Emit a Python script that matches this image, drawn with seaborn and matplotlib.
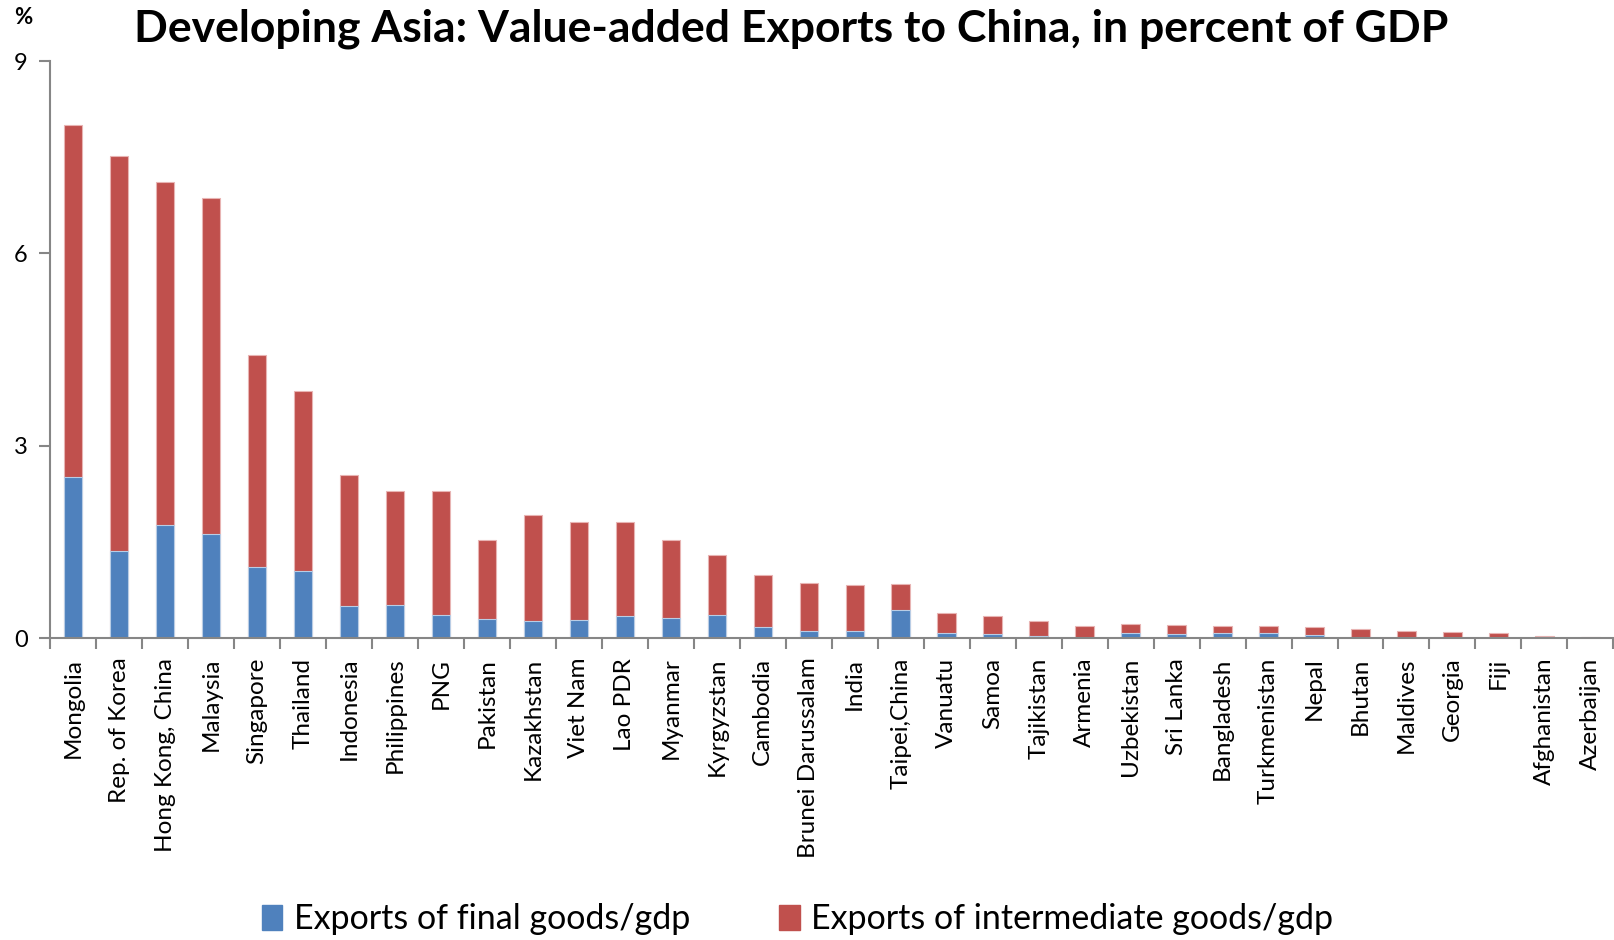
import matplotlib
matplotlib.use("Agg")
import matplotlib.pyplot as plt
import seaborn as sns
import numpy as np

countries = [
    "Mongolia", "Rep. of Korea", "Hong Kong, China", "Malaysia", "Singapore",
    "Thailand", "Indonesia", "Philippines", "PNG", "Pakistan", "Kazakhstan",
    "Viet Nam", "Lao PDR", "Myanmar", "Kyrgyzstan", "Cambodia",
    "Brunei Darussalam", "India", "Taipei,China", "Vanuatu", "Samoa",
    "Tajikistan", "Armenia", "Uzbekistan", "Sri Lanka", "Bangladesh",
    "Turkmenistan", "Nepal", "Bhutan", "Maldives", "Georgia", "Fiji",
    "Afghanistan", "Azerbaijan",
]

final_goods = [
    2.51, 1.36, 1.76, 1.62, 1.11, 1.05, 0.51, 0.52, 0.36, 0.30, 0.27,
    0.28, 0.35, 0.31, 0.36, 0.18, 0.11, 0.12, 0.44, 0.08, 0.06,
    0.04, 0.01, 0.08, 0.06, 0.08, 0.08, 0.05, 0.01, 0.00, 0.01, 0.00,
    0.00, 0.00,
]

intermediate_goods = [
    5.49, 6.16, 5.36, 5.24, 3.31, 2.81, 2.04, 1.77, 1.93, 1.24, 1.65,
    1.53, 1.46, 1.22, 0.94, 0.80, 0.75, 0.71, 0.41, 0.31, 0.28,
    0.23, 0.18, 0.14, 0.15, 0.11, 0.11, 0.12, 0.13, 0.11, 0.09, 0.08,
    0.04, 0.02,
]

y_ticks = [0, 3, 6, 9]

BLUE = "#4F81BD"
RED = "#C0504D"
AXIS_GREY = "#868686"

sns.set_style("white")
plt.rcParams["font.family"] = ["Lato", "DejaVu Sans"]
plt.rcParams["text.color"] = "black"
plt.rcParams["xtick.labelcolor"] = "black"
plt.rcParams["ytick.labelcolor"] = "black"

fig = plt.figure(figsize=(16.15, 9.4), dpi=100)
ax = fig.add_axes([0.031, 0.321, 0.968, 0.614])

totals = np.array(final_goods) + np.array(intermediate_goods)

# stacked bars: full height in red, final-goods share drawn over it in blue
sns.barplot(x=countries, y=totals, color=RED, width=0.4, saturation=1,
            edgecolor="#E8B4B3", linewidth=0.8, ax=ax, order=countries)
sns.barplot(x=countries, y=final_goods, color=BLUE, width=0.4, saturation=1,
            edgecolor="#B9CDE5", linewidth=0.8, ax=ax, order=countries)

n = len(countries)
ax.set_xlim(-0.5, n - 0.5)
ax.set_ylim(0, 9)
ax.set_yticks(y_ticks)
ax.set_yticklabels([str(t) for t in y_ticks], fontsize=17)

ax.set_xticks(range(n))
ax.set_xticklabels(countries, rotation=90, fontsize=17.5)
ax.set_xticks(np.arange(-0.5, n, 1.0), minor=True)
ax.tick_params(axis="x", which="major", length=0, pad=14, labelcolor="black")
ax.tick_params(axis="x", which="minor", length=8, width=1.5, color=AXIS_GREY,
               direction="out", bottom=True)
ax.tick_params(axis="y", which="major", length=8, width=1.5, color=AXIS_GREY,
               direction="out", left=True, pad=8, labelcolor="black")

for side in ("top", "right"):
    ax.spines[side].set_visible(False)
for side in ("left", "bottom"):
    ax.spines[side].set_color(AXIS_GREY)
    ax.spines[side].set_linewidth(1.5)

ax.set_xlabel("")
ax.set_ylabel("")

fig.text(0.49, 0.969, "Developing Asia: Value-added Exports to China, in percent of GDP",
         ha="center", va="center", fontsize=32, fontweight="bold", color="black")
fig.text(0.0145, 0.981, "%", ha="center", va="center", fontsize=16,
         fontweight="bold", color="black")

handles = [
    plt.Rectangle((0, 0), 1, 1, color=BLUE),
    plt.Rectangle((0, 0), 1, 1, color=RED),
]
fig.legend(handles, ["Exports of final goods/gdp", "Exports of intermediate goods/gdp"],
           loc="center", bbox_to_anchor=(0.494, 0.022), ncol=2, frameon=False,
           fontsize=24.5, handlelength=0.6, handleheight=0.75, handletextpad=0.35,
           columnspacing=2.6, borderaxespad=0, labelcolor="black")

fig.savefig("out.png", dpi=100)
